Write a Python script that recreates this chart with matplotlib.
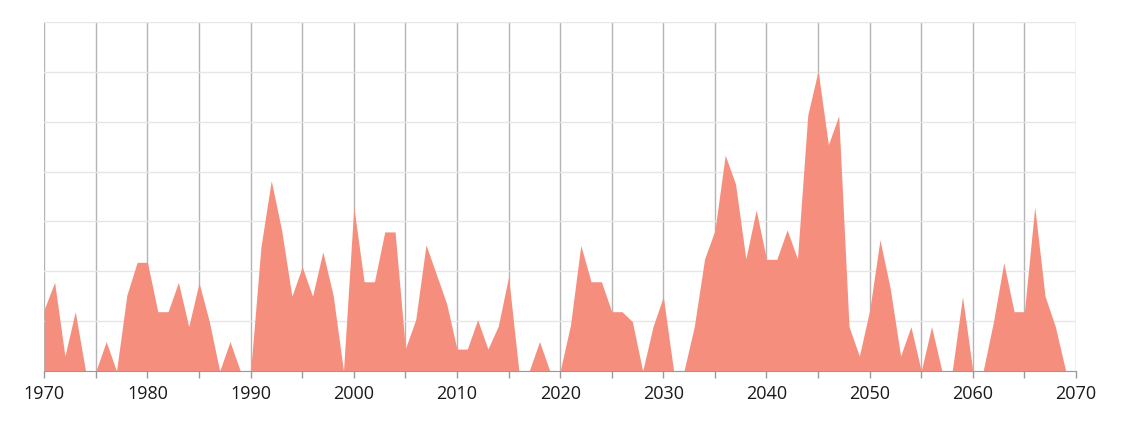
import numpy as np
import matplotlib
matplotlib.use('Agg')
import matplotlib.pyplot as plt

# ===== data =====
years = list(range(1970, 2071))
values = [
    12.4, 17.8, 3.0, 11.9, 0, 0, 5.9, 0, 15.2, 21.8,      # 1970-1979
    21.8, 11.9, 11.9, 17.8, 8.9, 17.7, 9.9, 0, 5.9, 0,     # 1980-1989
    0, 24.9, 38.2, 28.3, 15.0, 20.9, 15.0, 23.9, 15.2, 0,  # 1990-1999
    32.9, 17.9, 17.9, 27.9, 27.9, 4.5, 10.3, 25.3, 19.4, 13.5,  # 2000-2009
    4.4, 4.4, 10.3, 4.4, 9.0, 18.9, 0, 0, 5.9, 0,          # 2010-2019
    0, 9.2, 25.2, 17.9, 17.9, 11.9, 11.9, 9.9, 0, 8.9,     # 2020-2029
    14.9, 0, 0, 8.9, 22.5, 28.2, 43.3, 37.5, 22.5, 32.3,   # 2030-2039
    22.4, 22.4, 28.3, 22.5, 51.3, 60.2, 45.4, 51.2, 8.9, 3.0,  # 2040-2049
    12.2, 26.3, 16.5, 3.0, 8.9, 0, 8.9, 0, 0, 14.9,        # 2050-2059
    0, 0, 9.9, 21.7, 11.9, 11.9, 32.9, 15.0, 8.9, 0,       # 2060-2069
    0,                                                      # 2070
]
x_ticks = list(range(1970, 2071, 10))
x_minor = list(range(1970, 2071, 5))

plt.rcParams['font.family'] = ['Open Sans', 'DejaVu Sans']

fig = plt.figure(figsize=(11.24, 4.23), dpi=100)
ax = fig.add_axes([0.0394, 0.1229, 0.9179, 0.8251])

ax.fill_between(years, values, 0, color='#f68e7e', linewidth=0, zorder=2)

ax.set_xlim(1970, 2070)
ax.set_ylim(0, 70)

# horizontal light grid
ax.set_yticks(np.arange(0, 71, 10))
ax.yaxis.grid(True, color='#e6e6e6', linewidth=1, zorder=0)
ax.tick_params(axis='y', left=False, labelleft=False)

# vertical darker grid every 5 years
for yr in x_minor:
    ax.axvline(yr, color='#b4b4b4', linewidth=1, zorder=1)

ax.set_xticks(x_minor, minor=True)
ax.set_xticks(x_ticks)
ax.set_xticklabels([str(t) for t in x_ticks], fontsize=13, color='#1a1a1a')
ax.tick_params(axis='x', which='both', direction='out', length=5, width=1,
               color='#999999', pad=5)

for s in ['left', 'right', 'top']:
    ax.spines[s].set_visible(False)
ax.spines['bottom'].set_color('#999999')
ax.spines['bottom'].set_zorder(3)

fig.savefig('out.png', dpi=100)
